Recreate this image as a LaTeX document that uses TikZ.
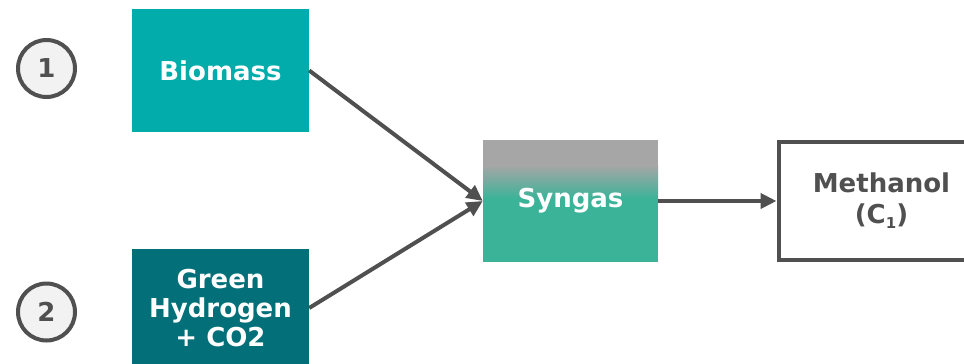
\documentclass[tikz,border=0pt]{standalone}
\usepackage{fontspec}
\setmainfont{DejaVu Sans}
\usetikzlibrary{arrows.meta}
\definecolor{biom}{HTML}{02ACAA}
\definecolor{ghyd}{HTML}{037079}
\definecolor{sgray}{HTML}{A6A6A6}
\definecolor{steal}{HTML}{3AB398}
\definecolor{dgray}{HTML}{505050}
\definecolor{cfill}{HTML}{F2F2F2}
\tikzset{
  lbl/.style={font=\fontsize{26}{31}\selectfont\bfseries, align=center, inner sep=0pt},
  boxA/.style={lbl, text=white, minimum width=177pt, minimum height=123pt},
  numc/.style={circle, draw=dgray, line width=4pt, fill=cfill, minimum size=57pt, inner sep=0pt, text=dgray, font=\fontsize{26}{31}\selectfont\bfseries},
  conn/.style={draw=dgray, line width=4pt, -{Triangle[length=16pt,width=15pt]}},
}
\begin{document}
\begin{tikzpicture}[x=1pt,y=-1pt]
\useasboundingbox (0,0) rectangle (964,364);
\clip (0,0) rectangle (964,364);
\fill[white] (0,0) rectangle (964,364);
% circles
\node[numc] (c1) at (46.5,68.5) {1};
\node[numc] (c2) at (46.5,312) {2};
% input boxes
\node[boxA, fill=biom] (bio) at (220.5,70.5) {Biomass};
\node[boxA, fill=ghyd, minimum height=118pt] (gh) at (220.5,308) {Green\\[-2pt]Hydrogen\\[-2pt]+ CO2};
% syngas
\fill[sgray] (483,140) rectangle (658,166);
\shade[top color=sgray, bottom color=steal] (483,165.5) rectangle (658,199);
\fill[steal] (483,198.5) rectangle (658,262);
\node[lbl, text=white, minimum width=175pt, minimum height=122pt] (syn) at (570.5,201) {Syngas};
% methanol
\node[lbl, text=dgray, draw=dgray, line width=4pt, fill=white, minimum width=206pt, minimum height=118pt] (meth) at (881.5,201) {Methanol\\[0pt](C{\fontsize{15}{15}\selectfont\raisebox{-5pt}{1}})};
% connectors
\draw[conn] (bio.east) -- (syn.west);
\draw[conn] (gh.east) -- (syn.west);
\draw[conn] (syn.east) -- (meth.west);
\end{tikzpicture}
\end{document}
